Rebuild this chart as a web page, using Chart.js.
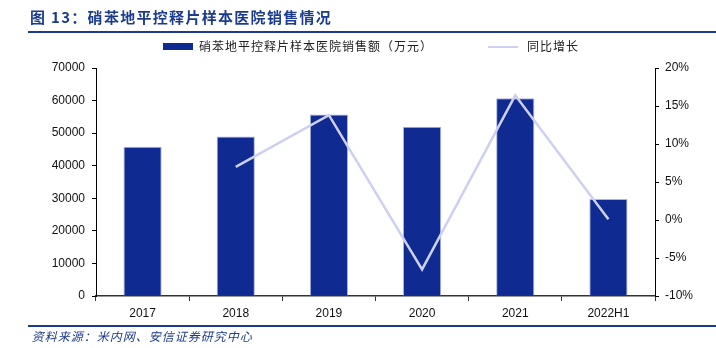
<!DOCTYPE html>
<html>
<head>
<meta charset="utf-8">
<script src="https://cdn.jsdelivr.net/npm/chart.js@4/dist/chart.umd.min.js"></script>
<style>
  html, body { margin: 0; padding: 0; background: #fff; }
  #wrap { position: relative; width: 716px; height: 348px; overflow: hidden; font-family: "Liberation Sans", Arial, sans-serif; }
  #c { position: absolute; left: 0; top: 0; }
  #title { position: absolute; left: 30px; top: 7px; font-family: "Noto Sans CJK SC", sans-serif; font-weight: bold; font-size: 15px; color: #1a3b8f; letter-spacing: 1.3px; line-height: 20px; white-space: nowrap; }
  #tline { position: absolute; left: 28px; top: 31px; width: 688px; height: 2px; background: #1a3b8f; }
  #fline { position: absolute; left: 28px; top: 325px; width: 688px; height: 2px; background: #1a3b8f; }
  #foot { position: absolute; left: 31px; top: 328px; font-family: "Noto Sans CJK SC", sans-serif; font-size: 12px; color: #1a3b8f; letter-spacing: 1px; line-height: 16px; white-space: nowrap; transform: skewX(-14deg); transform-origin: left bottom; }
  .lg { position: absolute; top: 38px; font-family: "Noto Sans CJK SC", sans-serif; font-size: 12px; color: #222; line-height: 16px; white-space: nowrap; letter-spacing: 1px; }
  .sw { position: absolute; }
</style>
</head>
<body>
<div id="wrap">
  <canvas id="c" width="716" height="348"></canvas>
  <div id="title"></div>
  <div id="tline"></div>
  <div id="legend"></div>
  <div id="fline"></div>
  <div id="foot"></div>
</div>
<script>
const titleText = "图 13：硝苯地平控释片样本医院销售情况";
const sourceText = "资料来源：米内网、安信证券研究中心";
const categories = ["2017", "2018", "2019", "2020", "2021", "2022H1"];
const salesLabel = "硝苯地平控释片样本医院销售额（万元）";
const salesValues = [45800, 49000, 55700, 52000, 60700, 29800];
const growthLabel = "同比增长";
const growthValues = [null, 7.0, 13.8, -6.5, 16.4, 0.1];
const leftTicks = [0, 10000, 20000, 30000, 40000, 50000, 60000, 70000];
const rightTicks = [-10, -5, 0, 5, 10, 15, 20];

const barColor = "#0f2a91";
const barEdge = "#a9b3e4";
const lineColor = "#cdd0f0";

document.getElementById("title").textContent = titleText;
document.getElementById("foot").textContent = sourceText;

// legend (HTML, built from dataset labels)
const lg = document.getElementById("legend");
lg.innerHTML =
  '<div class="sw" style="left:163px;top:43px;width:30px;height:7px;background:' + barColor + '"></div>' +
  '<div class="lg" style="left:199px">' + salesLabel + '</div>' +
  '<div class="sw" style="left:488px;top:46px;width:30px;height:2px;background:' + lineColor + '"></div>' +
  '<div class="lg" style="left:527px">' + growthLabel + '</div>';

const tickFont = { family: "'Liberation Sans', Arial, sans-serif", size: 12 };

new Chart(document.getElementById("c"), {
  data: {
    labels: categories,
    datasets: [
      {
        type: "line",
        label: growthLabel,
        data: growthValues,
        yAxisID: "y1",
        borderColor: lineColor,
        borderWidth: 2.5,
        pointRadius: 0,
        tension: 0,
        spanGaps: false,
        order: 0
      },
      {
        type: "bar",
        label: salesLabel,
        data: salesValues,
        yAxisID: "y",
        backgroundColor: barColor,
        borderColor: barEdge,
        borderWidth: { top: 1, left: 1, right: 1, bottom: 0 },
        borderSkipped: "bottom",
        categoryPercentage: 1,
        barPercentage: 0.41,
        order: 1
      }
    ]
  },
  options: {
    responsive: false,
    animation: false,
    devicePixelRatio: 1,
    layout: { padding: { left: 0, right: 0, top: 68, bottom: 0 } },
    plugins: { legend: { display: false }, tooltip: { enabled: false } },
    scales: {
      x: {
        offset: true,
        grid: { offset: true, drawOnChartArea: false, drawTicks: true, tickLength: 5, color: "#333" },
        border: { color: "#333", width: 1.5 },
        ticks: { color: "#111", font: tickFont, padding: 5, maxRotation: 0 },
        afterFit: s => { s.height = 52; }
      },
      y: {
        position: "left",
        min: 0, max: 70000,
        afterBuildTicks: s => { s.ticks = leftTicks.map(v => ({ value: v })); },
        grid: { drawOnChartArea: false, drawTicks: true, tickLength: 4, color: "#000" },
        border: { color: "#000", width: 1 },
        ticks: { color: "#111", font: tickFont, padding: 7, callback: v => String(v) },
        afterFit: s => { s.width = 96; }
      },
      y1: {
        position: "right",
        min: -10, max: 20,
        afterBuildTicks: s => { s.ticks = rightTicks.map(v => ({ value: v })); },
        grid: { drawOnChartArea: false, drawTicks: true, tickLength: 4, color: "#000" },
        border: { color: "#000", width: 1 },
        ticks: { color: "#111", font: tickFont, padding: 6, callback: v => v + "%" },
        afterFit: s => { s.width = 61; }
      }
    }
  }
});
</script>
</body>
</html>
